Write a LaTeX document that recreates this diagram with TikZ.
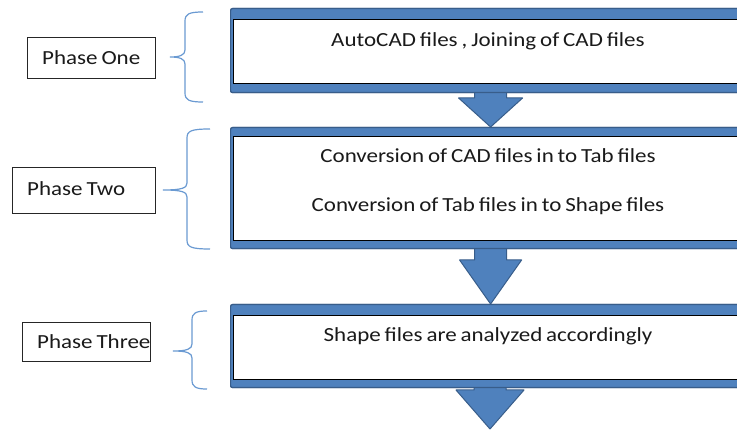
\documentclass[tikz,border=0pt]{standalone}
\usepackage{fontspec}
\setmainfont{Carlito}[FakeStretch=1.15,WordSpace=0.75]
\usetikzlibrary{calc}
\definecolor{bfill}{HTML}{4F81BD}
\definecolor{bdraw}{HTML}{385D8A}
\definecolor{brc}{HTML}{6A9AD2}
\definecolor{txt}{HTML}{1A1A1A}
\newcommand\mybrace[6]{%
\draw[bracestyle] (#3,#4) .. controls (#2+4,#4) and (#2,#4+2) .. (#2,#4+9) -- (#2,#5-7) .. controls (#2,#5-2) and (#2-5,#5) .. (#1,#5) .. controls (#2-5,#5) and (#2,#5+2) .. (#2,#5+7) -- (#2,#6-9) .. controls (#2,#6-2) and (#2+4,#6) .. (#3,#6);}
\begin{document}
\begin{tikzpicture}[x=1pt,y=-1pt,
  outerbox/.style={draw=bdraw,fill=bfill,line width=1.2pt,rounded corners=2pt,anchor=north west,inner sep=0pt,minimum width=520pt},
  innerbox/.style={draw=black,fill=white,line width=1.3pt,anchor=north west,inner sep=0pt,minimum width=514pt},
  barrow/.style={draw=bdraw,fill=bfill,line width=1pt,line join=round},
  phasebox/.style={draw=black!85,fill=white,line width=1.2pt,anchor=north west,inner sep=0pt},
  phasetxt/.style={anchor=west,inner sep=0pt,font=\fontsize{20}{24}\selectfont,text=txt},
  maintxt/.style={inner sep=0pt,font=\fontsize{20}{24}\selectfont,text=txt},
  bracestyle/.style={draw=brc,line width=1.2pt}]
\useasboundingbox (0,0) rectangle (737,430);
\clip (0,0) rectangle (737,430);
\fill[white] (0,0) rectangle (737,430);
% boxes
\node[outerbox,minimum height=84pt] (b1) at (230,8) {};
\node[outerbox,minimum height=121pt] (b2) at (230,127) {};
\node[outerbox,minimum height=83pt] (b3) at (230,304) {};
\coordinate (c3) at (490,429);
% arrows
\draw[barrow] ($(b1.south)+(-16,-4)$) -- ($(b2.north)+(-16,-29)$) -- ($(b2.north)+(-32,-29)$) -- (b2.north) -- ($(b2.north)+(32,-29)$) -- ($(b2.north)+(16,-29)$) -- ($(b1.south)+(16,-4)$) -- cycle;
\draw[barrow] ($(b2.south)+(-16,-4)$) -- ($(b3.north)+(-16,-44)$) -- ($(b3.north)+(-31,-44)$) -- (b3.north) -- ($(b3.north)+(31,-44)$) -- ($(b3.north)+(16,-44)$) -- ($(b2.south)+(16,-4)$) -- cycle;
\draw[barrow] ($(b3.south)+(-16,-4)$) -- ($(c3)+(-16,-39)$) -- ($(c3)+(-34,-39)$) -- (c3) -- ($(c3)+(34,-39)$) -- ($(c3)+(16,-39)$) -- ($(b3.south)+(16,-4)$) -- cycle;
% redraw box bands over arrow shafts
\node[outerbox,minimum height=84pt] at (230,8) {};
\node[outerbox,minimum height=121pt] at (230,127) {};
\node[outerbox,minimum height=83pt] at (230,304) {};
\node[innerbox,minimum height=64pt] (i1) at (233,19) {};
\node[innerbox,minimum height=104pt] (i2) at (233,136) {};
\node[innerbox,minimum height=64pt] (i3) at (233,315) {};
% texts
\node[maintxt] (t1) at (488,41) {AutoCAD files , Joining of CAD files};
\node[maintxt] (t2) at (488,156) {Conversion of CAD files in to Tab files};
\node[maintxt] (t3) at (488,206) {Conversion of Tab files in to Shape files};
\node[maintxt] (t4) at (488,336) {Shape files are analyzed accordingly};
% phase labels
\node[phasebox,minimum width=128pt,minimum height=41pt] (p1) at (27,37) {};
\node[phasebox,minimum width=143pt,minimum height=46pt] (p2) at (12,167) {};
\node[phasebox,minimum width=128pt,minimum height=39pt] (p3) at (22,322) {};
\node[phasetxt] (l1) at ($(p1.west)+(15,0)$) {Phase One};
\node[phasetxt] (l2) at ($(p2.west)+(15,-2)$) {Phase Two};
\node[phasetxt] (l3) at ($(p3.west)+(15,0)$) {Phase Three};
% braces
\mybrace{170}{185}{203}{12}{57}{102}
\mybrace{163}{187}{210}{129}{190}{249}
\mybrace{173}{192}{207}{311}{351}{389}
\end{tikzpicture}
\end{document}
